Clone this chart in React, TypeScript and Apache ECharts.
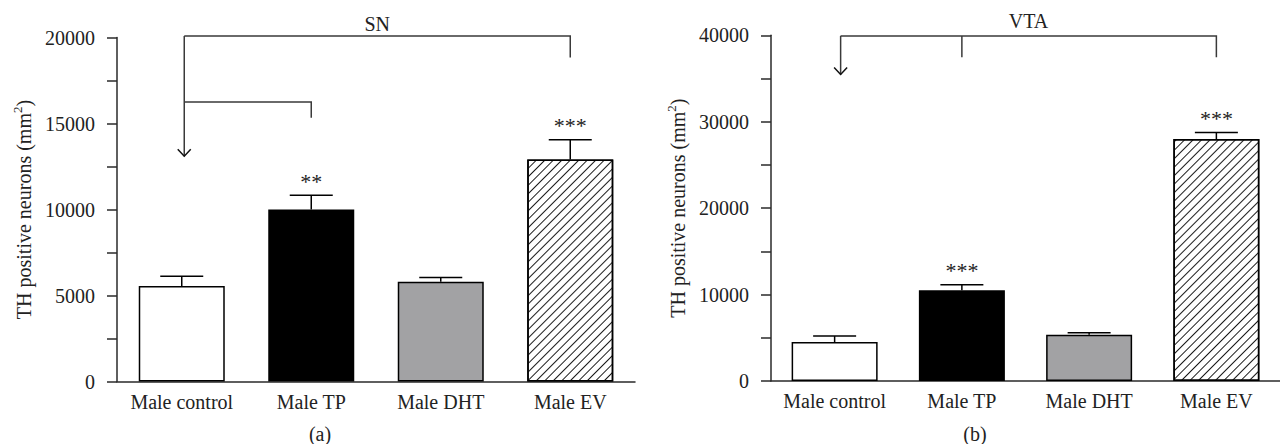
import React, { useEffect, useRef } from "react";
import * as echarts from "echarts";

const categories = ["Male control", "Male TP", "Male DHT", "Male EV"];
const barColors = ["#ffffff", "#000000", "#a2a2a4", "#ffffff"];

const snMeans = [5550, 10000, 5800, 12900];
const snErrors = [570, 830, 250, 1150];
const snStars = ["", "**", "", "***"];
const snMax = 20000;
const snTickStep = 2500;
const snLabelStep = 5000;

const vtaMeans = [4500, 10500, 5350, 28000];
const vtaErrors = [700, 650, 230, 750];
const vtaStars = ["", "***", "", "***"];
const vtaMax = 40000;
const vtaTickStep = 5000;
const vtaLabelStep = 10000;

// bracket annotations (data units)
const snBracketTop = 20080;
const snBracketEVLeg = 18830;
const snBracketTPLevel = 16250;
const snBracketTPLeg = 15340;
const snArrowTip = 13100;

const vtaBracketTop = 39930;
const vtaBracketLeg = 37470;
const vtaArrowTip = 35470;

const FONT = "'Liberation Serif', 'DejaVu Serif', serif";
const AXIS_COLOR = "#2a2a2a";

function yAxis(gridIndex: number, max: number, step: number, labelStep: number) {
  return {
    type: "value",
    gridIndex,
    min: 0,
    max,
    interval: step,
    name: "TH positive neurons (mm{sup|2})",
    nameLocation: "middle",
    nameGap: 80,
    nameTextStyle: {
      fontFamily: FONT,
      fontSize: 20,
      color: "#222",
      lineHeight: 26,
      rich: {
        sup: { fontSize: 13, fontFamily: FONT, color: "#222", verticalAlign: "top", lineHeight: 14 },
      },
    },
    splitLine: { show: false },
    axisLine: { show: true, lineStyle: { color: AXIS_COLOR, width: 1.5 } },
    axisTick: { show: true, inside: false, length: 10, lineStyle: { color: AXIS_COLOR, width: 1.5 } },
    axisLabel: {
      margin: 22,
      fontFamily: FONT,
      fontSize: 20,
      color: "#222",
      formatter: (v: number) => (v % labelStep === 0 ? String(v) : ""),
    },
  };
}

function xAxis(gridIndex: number) {
  return {
    type: "category",
    gridIndex,
    data: categories,
    axisLine: { show: true, lineStyle: { color: AXIS_COLOR, width: 1.5 } },
    axisTick: { show: false },
    axisLabel: { margin: 10, fontFamily: FONT, fontSize: 20, color: "#222", interval: 0 },
  };
}

function barSeries(idx: number, means: number[]) {
  return {
    type: "bar",
    xAxisIndex: idx,
    yAxisIndex: idx,
    barWidth: 86,
    data: means.map((v, i) => ({
      value: v,
      itemStyle: {
        color: barColors[i],
        borderColor: "#000",
        borderWidth: 1.5,
        decal:
          i === 3
            ? {
                symbol: "rect",
                symbolSize: 1,
                color: "#1a1a1a",
                dashArrayX: [1, 0],
                dashArrayY: [1, 4.2],
                rotation: -Math.PI / 4,
              }
            : undefined,
      },
    })),
    z: 2,
  };
}

function errorSeries(idx: number, means: number[], errors: number[], stars: string[]) {
  return {
    type: "custom",
    xAxisIndex: idx,
    yAxisIndex: idx,
    z: 3,
    data: means.map((m, i) => [i, m, errors[i]]),
    renderItem: (params: any, api: any) => {
      const x = api.value(0);
      const m = api.value(1);
      const e = api.value(2);
      const p0 = api.coord([x, m]);
      const p1 = api.coord([x, m + e]);
      const style = { stroke: "#000", lineWidth: 1.5 };
      const children: any[] = [
        { type: "line", shape: { x1: p0[0], y1: p0[1], x2: p1[0], y2: p1[1] }, style },
        { type: "line", shape: { x1: p1[0] - 21.5, y1: p1[1], x2: p1[0] + 21.5, y2: p1[1] }, style },
      ];
      const s = stars[params.dataIndex];
      if (s) {
        children.push({
          type: "text",
          x: p1[0],
          y: p1[1] - 3,
          style: {
            text: s,
            fontFamily: FONT,
            fontSize: 22,
            fill: "#222",
            align: "center",
            verticalAlign: "bottom",
          },
        });
      }
      return { type: "group", children };
    },
  };
}

const lineStyle = { stroke: "#3a3a3a", lineWidth: 1.5, fill: null };

function arrow(x: number, yTop: number, yTip: number) {
  return [
    { type: "polyline", shape: { points: [[x, yTop], [x, yTip]] }, style: lineStyle },
    {
      type: "polyline",
      shape: { points: [[x - 6.5, yTip - 7], [x, yTip], [x + 6.5, yTip - 7]] },
      style: { stroke: "#111", lineWidth: 1.5, fill: null },
    },
  ];
}

function snBrackets() {
  return {
    type: "custom",
    xAxisIndex: 0,
    yAxisIndex: 0,
    z: 4,
    silent: true,
    data: [[0, 0]],
    renderItem: (_p: any, api: any) => {
      const a = api.coord([0, snBracketTop]);
      const b = api.coord([3, snBracketTop]);
      const bLeg = api.coord([3, snBracketEVLeg]);
      const c = api.coord([0, snBracketTPLevel]);
      const d = api.coord([1, snBracketTPLevel]);
      const dLeg = api.coord([1, snBracketTPLeg]);
      const tip = api.coord([0, snArrowTip]);
      const xl = a[0] + 2.5;
      return {
        type: "group",
        children: [
          { type: "polyline", shape: { points: [[xl, a[1]], [b[0], b[1]], [bLeg[0], bLeg[1]]] }, style: lineStyle },
          { type: "polyline", shape: { points: [[xl, c[1]], [d[0], d[1]], [dLeg[0], dLeg[1]]] }, style: lineStyle },
          ...arrow(xl, a[1], tip[1]),
          {
            type: "text",
            x: (xl + b[0]) / 2,
            y: a[1] - 12.5,
            style: { text: "SN", fontFamily: FONT, fontSize: 20, fill: "#222", align: "center", verticalAlign: "middle" },
          },
        ],
      };
    },
  };
}

function vtaBrackets() {
  return {
    type: "custom",
    xAxisIndex: 1,
    yAxisIndex: 1,
    z: 4,
    silent: true,
    data: [[0, 0]],
    renderItem: (_p: any, api: any) => {
      const a = api.coord([0, vtaBracketTop]);
      const b = api.coord([3, vtaBracketTop]);
      const bLeg = api.coord([3, vtaBracketLeg]);
      const m = api.coord([1, vtaBracketTop]);
      const mLeg = api.coord([1, vtaBracketLeg]);
      const tip = api.coord([0, vtaArrowTip]);
      const xl = a[0] + 6;
      return {
        type: "group",
        children: [
          { type: "polyline", shape: { points: [[xl, a[1]], [b[0], b[1]], [bLeg[0], bLeg[1]]] }, style: lineStyle },
          { type: "polyline", shape: { points: [[m[0], m[1]], [mLeg[0], mLeg[1]]] }, style: lineStyle },
          ...arrow(xl, a[1], tip[1]),
          {
            type: "text",
            x: (xl + b[0]) / 2,
            y: a[1] - 15,
            style: { text: "VTA", fontFamily: FONT, fontSize: 20, fill: "#222", align: "center", verticalAlign: "middle" },
          },
        ],
      };
    },
  };
}

export default function App() {
  const ref = useRef<HTMLDivElement>(null);
  useEffect(() => {
    document.body.style.margin = "0";
    if (!ref.current) return;
    const chart = echarts.init(ref.current, undefined, { renderer: "svg" });
    chart.setOption({
      animation: false,
      backgroundColor: "#ffffff",
      grid: [
        { left: 117, top: 37.5, width: 518, height: 344 },
        { left: 771, top: 35.3, width: 521, height: 345.7 },
      ],
      xAxis: [xAxis(0), xAxis(1)],
      yAxis: [yAxis(0, snMax, snTickStep, snLabelStep), yAxis(1, vtaMax, vtaTickStep, vtaLabelStep)],
      series: [
        barSeries(0, snMeans),
        barSeries(1, vtaMeans),
        errorSeries(0, snMeans, snErrors, snStars),
        errorSeries(1, vtaMeans, vtaErrors, vtaStars),
        snBrackets(),
        vtaBrackets(),
      ],
      graphic: [
        {
          type: "text",
          x: 320,
          y: 434,
          style: { text: "(a)", fontFamily: FONT, fontSize: 20, fill: "#222", align: "center", verticalAlign: "middle" },
        },
        {
          type: "text",
          x: 975,
          y: 434,
          style: { text: "(b)", fontFamily: FONT, fontSize: 20, fill: "#222", align: "center", verticalAlign: "middle" },
        },
      ],
    });
    return () => chart.dispose();
  }, []);
  return <div ref={ref} style={{ width: 1280, height: 444 }} />;
}
